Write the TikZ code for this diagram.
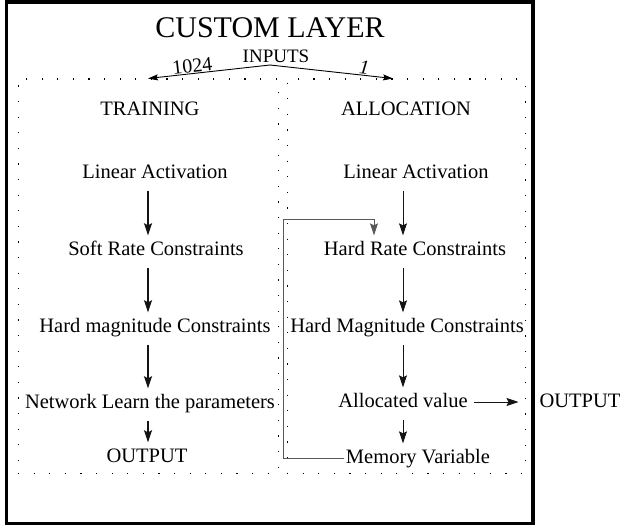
\documentclass[tikz,border=0pt]{standalone}
\usepackage{fontspec}
\setmainfont{Liberation Serif}
\usepackage{xcolor}
\usepackage{tikz}
\usetikzlibrary{arrows.meta}
\usetikzlibrary{positioning}
\definecolor{loopgray}{rgb}{0.35,0.35,0.35}
\definecolor{inkblack}{rgb}{0.08,0.08,0.08}

\begin{document}
\begin{tikzpicture}[x=1pt,y=-1pt]
	\tikzstyle{layertext} = [font=\fontsize{20.5}{24}\selectfont, inner sep=2pt, text height=14pt, text depth=4pt, inner ysep=5.5pt]
	\tikzstyle{dotbox} = [draw, line width=1pt, dash pattern=on 1.2pt off 14.4pt, inner sep=0pt]
	\tikzstyle{thickarrow} = [inkblack, line width=1.5pt, shorten <=3pt, -{Stealth[length=12pt,width=8pt,inset=2pt]}]
	\tikzstyle{thinarrow} = [inkblack, line width=0.9pt, shorten <=3pt, -{Stealth[length=12pt,width=8pt,inset=2pt]}]
	\tikzstyle{inarrow} = [line width=0.9pt, -{Stealth[length=10pt,width=6pt,inset=1.5pt]}]

	\useasboundingbox (0,0) rectangle (621,527);

	% Draw the outer frame and the two dotted columns.
	\draw[line width=3.3pt] (6.5,2) rectangle (533,523.5);
	\node[dotbox, minimum width=260pt, minimum height=394pt] (trainbox) at (148,276) {};
	\node[dotbox, minimum width=238pt, minimum height=394pt] (allocbox) at (406,276) {};

	% Title and inputs
	\node[font=\fontsize{30}{34}\selectfont, inner sep=0pt] (title) at (270,28) {CUSTOM LAYER};
	\node[font=\fontsize{19}{22}\selectfont, inner sep=0pt] (inputs) at (276,56) {INPUTS};
	\coordinate (inapex) at (270,65);
	\draw[inarrow] (inapex) -- (trainbox.north)
		node[pos=0.63, sloped, above, inner sep=0.5pt, font=\fontsize{20}{23}\selectfont] {1024};
	\draw[inarrow] (inapex) -- ([xshift=-13pt]allocbox.north)
		node[pos=0.76, sloped, above, inner sep=0.5pt, font=\fontsize{20}{23}\selectfont\itshape] {1};

	% Training column
	\node[layertext] (training) at (150,110) {TRAINING};
	\node[layertext] (tla) at (155,173) {Linear Activation};
	\node[layertext] (tsr) at (156,250) {Soft Rate Constraints};
	\node[layertext] (thm) at (155,327) {Hard magnitude Constraints};
	\node[layertext] (tnl) at (150,403) {Network Learn the parameters};
	\node[layertext] (tout) at (147,457) {OUTPUT};

	\foreach \a/\b in {tla/tsr, tsr/thm, thm/tnl, tnl/tout}
	{
		\draw[thickarrow] (\a.south -| trainbox.north) -- (\b.north -| trainbox.north);
	}

	% Allocation column
	\node[layertext] (allocation) at (406,110) {ALLOCATION};
	\node[layertext] (rla) at (416,173) {Linear Activation};
	\node[layertext] (hrc) at (415,250) {Hard Rate Constraints};
	\node[layertext] (hmc) at (407,327) {Hard Magnitude Constraints};
	\node[layertext] (alv) at (403,402) {Allocated value};
	\node[layertext] (mem) at (418,458) {Memory Variable};
	\node[layertext] (rout) at (580,402) {OUTPUT};

	\foreach \a/\b in {rla/hrc, hrc/hmc, hmc/alv, alv/mem}
	{
		\draw[thinarrow] ([xshift=-3pt]\a.south -| allocbox.north) -- ([xshift=-3pt]\b.north -| allocbox.north);
	}

	\draw[thinarrow, shorten <=4pt] (alv.east) -- ([xshift=-7pt]allocbox.east |- alv.east);

	% Memory fed back into the rate constraints
	\coordinate (fbcorner) at (283,219);
	\draw[loopgray, line width=0.9pt, -{Stealth[length=12pt,width=8pt,inset=2pt]}]
		(mem.west) -| (fbcorner) -| ([xshift=-41pt]hrc.north);

\end{tikzpicture}
\end{document}
